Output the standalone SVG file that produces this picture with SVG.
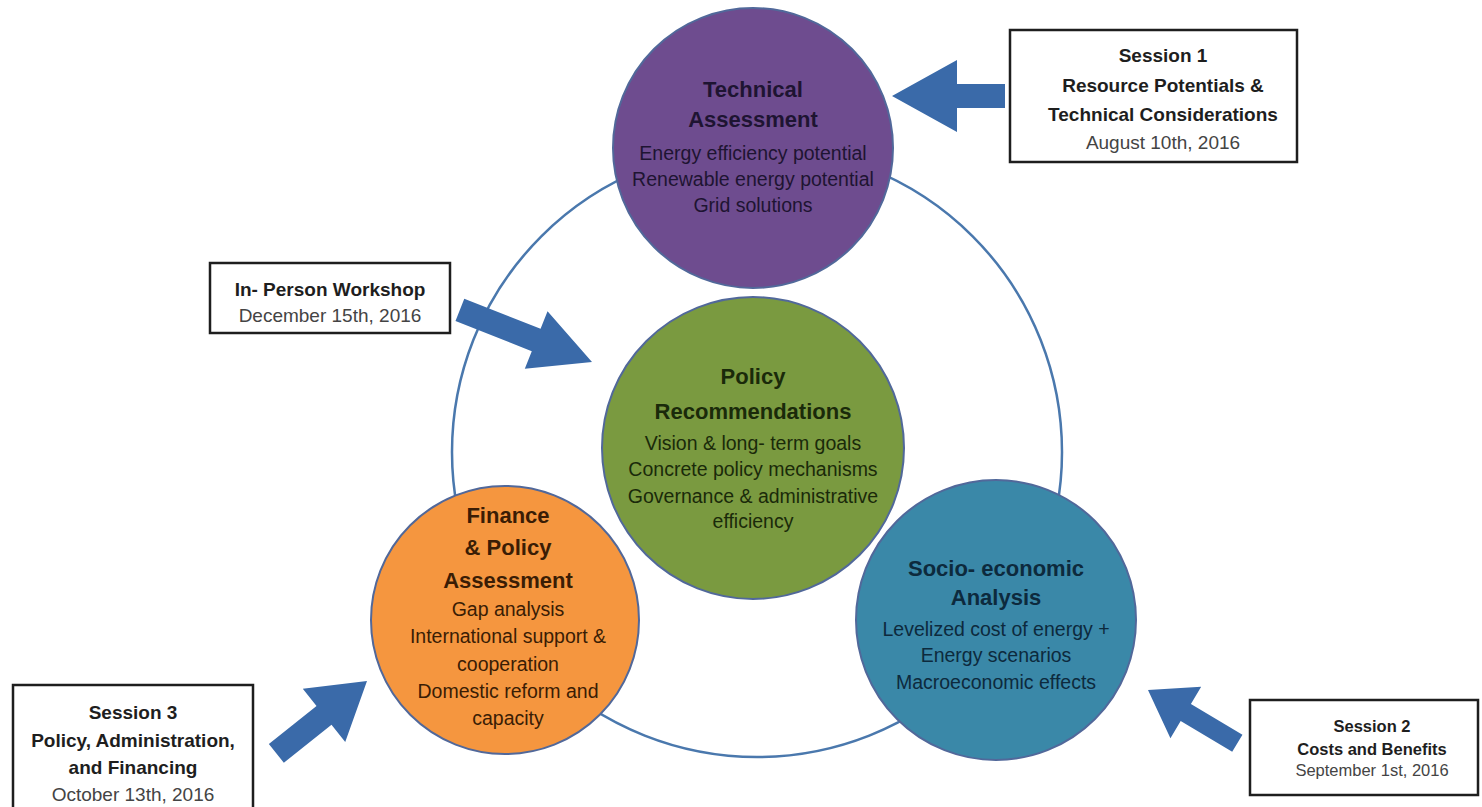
<svg xmlns="http://www.w3.org/2000/svg" width="1482" height="807" viewBox="0 0 1482 807">
<defs>
<style>
text{font-family:"Liberation Sans",Arial,sans-serif;text-anchor:middle}
.t{font-size:22px;font-weight:bold}
.b{font-size:19.5px}
.bt{font-size:19px;font-weight:bold;fill:#1e1e1e}
.bd{font-size:19px;fill:#444}
.node{stroke:#51689a;stroke-width:2}
.box{fill:#fff;stroke:#1e1e1e;stroke-width:2.5}
.arrow{fill:#3a6aa9}
</style>
<polygon id="arr" points="0,0 -1,-1 -1,-0.35 -2,-0.35 -2,0.35 -1,0.35 -1,1"/>
</defs>
<rect width="1482" height="807" fill="#fff"/>
<g id="connectors">
<circle cx="757" cy="452" r="305" fill="none" stroke="#4a78ad" stroke-width="2.5"/>
</g>
<g id="policy">
<circle class="node" cx="753" cy="448" r="151" fill="#7a9a40"/>
<g fill="#1a2a0a">
<text class="t" x="753" y="384">Policy</text>
<text class="t" x="753" y="419">Recommendations</text>
<text class="b" x="753" y="450">Vision &amp; long- term goals</text>
<text class="b" x="753" y="476">Concrete policy mechanisms</text>
<text class="b" x="753" y="503">Governance &amp; administrative</text>
<text class="b" x="753" y="528">efficiency</text>
</g>
</g>
<g id="technical">
<circle class="node" cx="753" cy="148" r="140" fill="#6e4c8f"/>
<g fill="#1e1432">
<text class="t" x="753" y="97">Technical</text>
<text class="t" x="753" y="127">Assessment</text>
<text class="b" x="753" y="160">Energy efficiency potential</text>
<text class="b" x="753" y="186">Renewable energy potential</text>
<text class="b" x="753" y="212">Grid solutions</text>
</g>
</g>
<g id="finance">
<circle class="node" cx="505" cy="620" r="134" fill="#f5963f"/>
<g fill="#3a1d05">
<text class="t" x="508" y="523">Finance</text>
<text class="t" x="508" y="555">&amp; Policy</text>
<text class="t" x="508" y="588">Assessment</text>
<text class="b" x="508" y="616">Gap analysis</text>
<text class="b" x="508" y="643">International support &amp;</text>
<text class="b" x="508" y="671">cooperation</text>
<text class="b" x="508" y="698">Domestic reform and</text>
<text class="b" x="508" y="725">capacity</text>
</g>
</g>
<g id="socio">
<circle class="node" cx="996" cy="620" r="140" fill="#3a88a8"/>
<g fill="#0d2a3d">
<text class="t" x="996" y="576">Socio- economic</text>
<text class="t" x="996" y="605">Analysis</text>
<text class="b" x="996" y="636">Levelized cost of energy +</text>
<text class="b" x="996" y="662">Energy scenarios</text>
<text class="b" x="996" y="689">Macroeconomic effects</text>
</g>
</g>
<g id="session1">
<rect class="box" x="1010" y="30" width="287" height="132"/>
<text class="bt" x="1163" y="62">Session 1</text>
<text class="bt" x="1163" y="92">Resource Potentials &amp;</text>
<text class="bt" x="1163" y="121">Technical Considerations</text>
<text class="bd" x="1163" y="149">August 10th, 2016</text>
</g>
<g id="workshop">
<rect class="box" x="210" y="263" width="240" height="70"/>
<text class="bt" x="330" y="296">In- Person Workshop</text>
<text class="bd" x="330" y="322">December 15th, 2016</text>
</g>
<g id="session3">
<rect class="box" x="13" y="685" width="240" height="125"/>
<text class="bt" x="133" y="719">Session 3</text>
<text class="bt" x="133" y="747">Policy, Administration,</text>
<text class="bt" x="133" y="774">and Financing</text>
<text class="bd" x="133" y="801">October 13th, 2016</text>
</g>
<g id="session2">
<rect class="box" x="1250" y="700" width="228" height="95"/>
<text class="bt" x="1372" y="732" style="font-size:16.5px">Session 2</text>
<text class="bt" x="1372" y="755" style="font-size:16.5px">Costs and Benefits</text>
<text class="bd" x="1372" y="776" style="font-size:16.5px">September 1st, 2016</text>
</g>
<g id="arrows" class="arrow">
<path d="M892,96 L957,60 L957,84 L1005,84 L1005,108 L957,108 L957,132 Z"/>
<g transform="translate(592,362) rotate(21.5)"><path d="M0,0 L-60,-31 L-60,-12 L-142,-12 L-142,12 L-60,12 L-60,31 Z"/></g>
<g transform="translate(367,681) rotate(-38.6)"><path d="M0,0 L-55,-34 L-55,-12 L-116,-12 L-116,12 L-55,12 L-55,34 Z"/></g>
<g transform="translate(1148,690) rotate(210.8)"><path d="M0,0 L-44,-30 L-44,-10 L-104,-10 L-104,10 L-44,10 L-44,30 Z"/></g>
</g>
</svg>
